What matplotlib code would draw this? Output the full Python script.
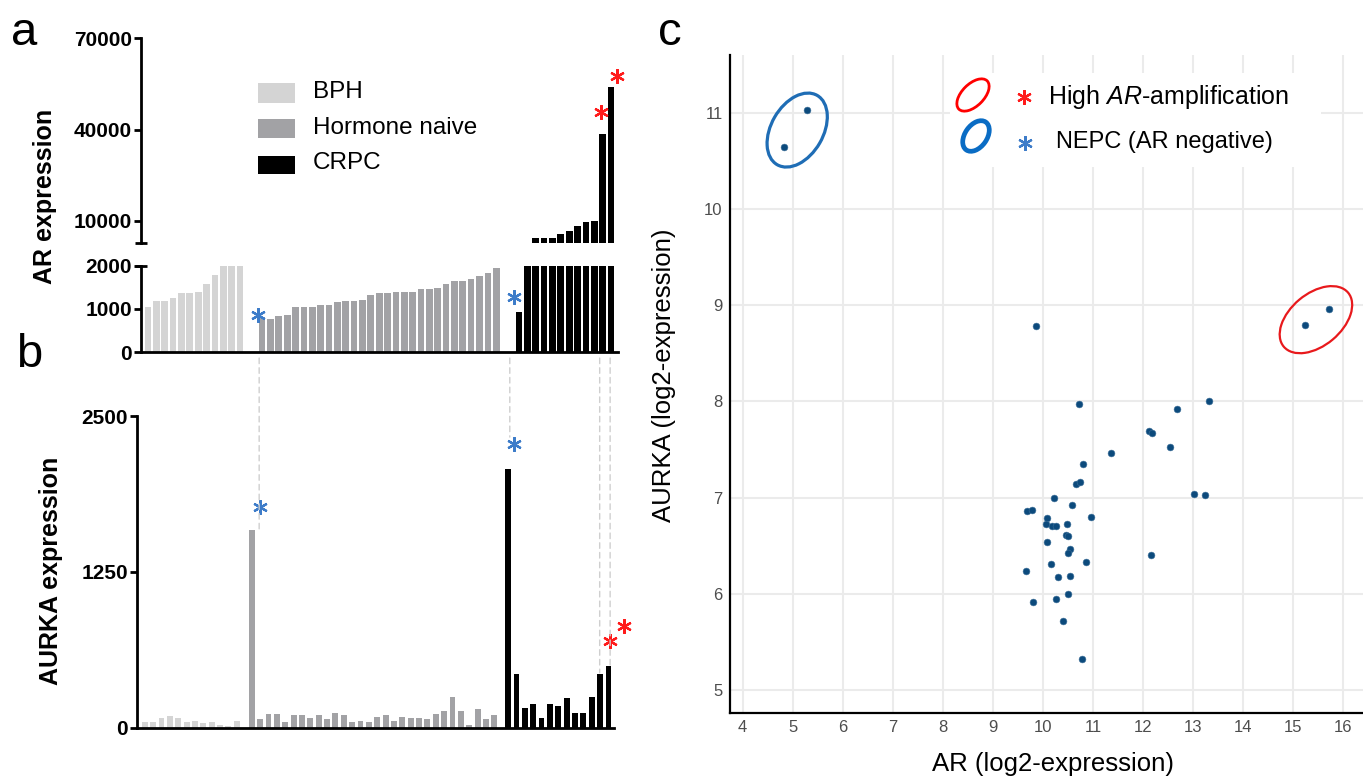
import numpy as np
import matplotlib
matplotlib.use("Agg")
import matplotlib.pyplot as plt
from matplotlib.patches import Ellipse, Rectangle, ConnectionPatch
from matplotlib.transforms import blended_transform_factory, ScaledTranslation

plt.rcParams["font.family"] = ["Liberation Sans", "DejaVu Sans"]
plt.rcParams["mathtext.fontset"] = "custom"
plt.rcParams["mathtext.rm"] = "Liberation Sans"
plt.rcParams["mathtext.it"] = "Liberation Sans:italic"
NARROW = ["Liberation Sans Narrow", "Liberation Sans"]

W, H = 1363, 778

# --- data ------------------------------------------------------------------------------
groups = ["BPH", "Hormone naive", "CRPC"]
group_colors = ["#d4d4d4", "#a2a2a5", "#000000"]

bph_ar = [1040, 1190, 1190, 1250, 1370, 1370, 1400, 1580, 1790, 2000, 2000, 2000]
naive_ar = [800, 770, 823, 862, 1040, 1040, 1040, 1100, 1100, 1150, 1190, 1190, 1215,
            1310, 1370, 1370, 1400, 1400, 1400, 1460, 1460, 1485, 1580, 1640, 1640,
            1690, 1770, 1820, 1940]
crpc_ar = [920, 2600, 4370, 4370, 4370, 5690, 6540, 8190, 9500, 9830, 38590, 53920]

bph_aurka = [46, 46, 75, 97, 75, 46, 57, 35, 46, 22, 14, 57]
naive_aurka = [1582, 67, 110, 110, 46, 100, 100, 78, 100, 67, 121, 100, 46, 57, 46, 89,
               100, 57, 89, 78, 78, 67, 110, 132, 245, 132, 24, 151, 67, 100]
crpc_aurka = [2077, 433, 161, 194, 75, 194, 172, 237, 118, 118, 245, 433, 498]

sc_ar = [4.83, 5.29, 9.85, 15.23, 15.71, 10.71, 12.67, 13.31, 12.11, 12.18, 12.53, 11.35,
         10.80, 10.65, 10.73, 10.22, 13.01, 13.23, 10.58, 9.67, 9.77, 10.95, 10.07, 10.05,
         10.17, 10.26, 10.47, 10.46, 10.50, 10.08, 10.53, 10.50, 12.15, 10.16, 10.86, 9.65,
         10.29, 10.54, 10.49, 10.26, 9.79, 10.40, 10.77]
sc_aurka = [10.64, 11.03, 8.78, 8.79, 8.96, 7.97, 7.92, 8.00, 7.69, 7.67, 7.53, 7.46,
            7.35, 7.14, 7.16, 7.00, 7.04, 7.03, 6.92, 6.86, 6.87, 6.80, 6.79, 6.73,
            6.71, 6.71, 6.73, 6.61, 6.60, 6.54, 6.47, 6.43, 6.40, 6.31, 6.33, 6.24,
            6.18, 6.19, 6.00, 5.95, 5.92, 5.72, 5.32]

# star annotations: (group, bar index, x offset, y)
stars_a_low = [(1, 0, -0.45, 850, "blue"), (2, 0, -0.65, 1264, "blue")]
stars_a_up = [(2, 10, -0.2, 45770, "red"), (2, 11, 0.7, 57600, "red")]
stars_b = [(1, 0, 1.0, 1773, "blue"), (2, 0, 0.75, 2273, "blue"),
           (2, 12, 0.2, 694, "red"), (2, 12, 1.8, 815, "red")]
# dashed guides: (group in a, index in a, x offset, AURKA value where it stops)
guides = [(1, 0, -0.35, 1582), (2, 0, -1.1, 2331), (2, 10, -0.35, 440), (2, 11, -0.1, 500)]

STAR_COL = {"blue": "#3d7cc9", "red": "#ff1a1a"}


def positions(sizes, gaps):
    xs, start = [], 0.0
    for i, n in enumerate(sizes):
        xs.append(start + np.arange(n))
        if i < len(gaps):
            start = xs[-1][-1] + gaps[i]
    return xs


def px_axes(l, t, r, b):
    return fig.add_axes([l / W, 1 - b / H, (r - l) / W, (b - t) / H])


def fpx(x, y):
    return x / W, 1 - y / H


def star(ax, x, y, col, trans=None):
    kw = dict(transform=trans) if trans is not None else {}
    ax.plot([x], [y], marker=(6, 2, 0), ms=10.5, mew=1.6, color=STAR_COL[col],
            clip_on=False, zorder=5, **kw)


fig = plt.figure(figsize=(W / 100, H / 100), dpi=100)

xa = positions([len(bph_ar), len(naive_ar), len(crpc_ar)], [2.64, 2.72])
xb = positions([len(bph_aurka), len(naive_aurka), len(crpc_aurka)], [1.79, 1.65])
ya = [bph_ar, naive_ar, crpc_ar]
yb = [bph_aurka, naive_aurka, crpc_aurka]

tick_kw = dict(labelsize=15, width=2.0, length=5, pad=1.5)

# --- panel a: broken axis ---------------------------------------------------------------
ax_up = px_axes(141, 38.3, 618, 242.7)
ax_lo = px_axes(141, 265.7, 618, 352)
for ax in (ax_up, ax_lo):
    for g in range(3):
        ax.bar(xa[g], ya[g], width=0.8, color=group_colors[g], linewidth=0)
    ax.set_xlim(-0.84, 56.2)
    ax.set_xticks([])
    for s in ("top", "right"):
        ax.spines[s].set_visible(False)
    ax.spines["left"].set_linewidth(2.0)
    ax.tick_params(axis="y", **tick_kw)
ax_up.spines["bottom"].set_visible(False)
ax_up.set_ylim(2800, 70000)
ax_up.set_yticks([10000, 40000, 70000])
ax_lo.set_ylim(0, 2000)
ax_lo.set_yticks([0, 1000, 2000])
ax_lo.spines["bottom"].set_linewidth(2.0)
for ax in (ax_up, ax_lo):
    for lab in ax.get_yticklabels():
        lab.set_fontweight("bold")
# end caps of the broken axis
ax_up.plot([-0.012, 0.012], [0, 0], transform=ax_up.transAxes, color="k", lw=2.0,
           clip_on=False, solid_capstyle="butt")
ax_lo.plot([-0.012, 0.012], [1, 1], transform=ax_lo.transAxes, color="k", lw=2.0,
           clip_on=False, solid_capstyle="butt")

for g, i, dx, y, c in stars_a_low:
    star(ax_lo, xa[g][i] + dx, y, c)
for g, i, dx, y, c in stars_a_up:
    star(ax_up, xa[g][i] + dx, y, c)

fig.text(*fpx(45, 196), "AR expression", rotation=90, ha="center", va="center",
         fontsize=18, fontweight="bold")

# legend of panel a
leg_y = [(82.7, 102.7, 92.3), (119, 137.7, 127.7), (155.7, 174.3, 163.3)]
for (t, b, ty), name, col in zip(leg_y, groups, group_colors):
    fig.add_artist(Rectangle(fpx(258, b), 37 / W, (b - t) / H, transform=fig.transFigure,
                             color=col, lw=0))
    fig.text(*fpx(313, ty), name, ha="left", va="center", fontsize=17.5)

# --- panel b ----------------------------------------------------------------------------
ax_b = px_axes(137, 416, 614, 727.7)
for g in range(3):
    ax_b.bar(xb[g], yb[g], width=0.7, color=group_colors[g], linewidth=0)
ax_b.set_xlim(-0.93, 56.1)
ax_b.set_ylim(0, 2500)
ax_b.set_yticks([0, 1250, 2500])
ax_b.set_xticks([])
for s in ("top", "right"):
    ax_b.spines[s].set_visible(False)
for s in ("left", "bottom"):
    ax_b.spines[s].set_linewidth(2.0)
ax_b.tick_params(axis="y", **tick_kw)
for lab in ax_b.get_yticklabels():
    lab.set_fontweight("bold")
for g, i, dx, y, c in stars_b:
    star(ax_b, xb[g][i] + dx, y, c)
fig.text(*fpx(51, 571), "AURKA expression", rotation=90, ha="center", va="center",
         fontsize=18, fontweight="bold")

# dashed guides from panel a down to panel b (drawn above the axes backgrounds)
for g, i, dx, yv in guides:
    x = xa[g][i] + dx
    tr_a = blended_transform_factory(ax_lo.transData, ax_lo.transAxes)
    tr_b = blended_transform_factory(ax_lo.transData, ax_b.transData)
    con = ConnectionPatch(xyA=(x, -0.07), coordsA=tr_a, xyB=(x, yv), coordsB=tr_b,
                          color="#cfcfcf", lw=1.0, linestyle=(0, (4, 3)), zorder=1)
    fig.add_artist(con)

# --- panel c: scatter -------------------------------------------------------------------
ax_c = px_axes(729.6, 55, 1363, 713.3)
ax_c.set_axisbelow(True)
ax_c.grid(True, color="#ebebeb", lw=1.5)
ax_c.scatter(sc_ar, sc_aurka, s=24, color="#0c4a7c", edgecolors="#3d6f99",
             linewidths=0.4, zorder=3)
ax_c.add_patch(Rectangle(fpx(950, 167), 371 / W, 94 / H, transform=fig.transFigure,
                         color="white", lw=0, zorder=1))
for s in ("top", "right"):
    ax_c.spines[s].set_visible(False)
for s in ("left", "bottom"):
    ax_c.spines[s].set_linewidth(1.6)
ax_c.set_xticks(range(4, 17))
ax_c.set_yticks(range(5, 12))
ax_c.tick_params(length=0, labelsize=12, labelcolor="#4d4d4d", pad=5)
for lab in ax_c.get_xticklabels() + ax_c.get_yticklabels():
    lab.set_fontfamily(NARROW)
ax_c.set_xlim(3.74, 16.39)
ax_c.set_ylim(4.76, 11.6)


def px_ellipse(ax, cx, cy, w, h, ang, base, **kw):
    tr = fig.dpi_scale_trans + ScaledTranslation(cx, cy, base)
    e = Ellipse((0, 0), w / 100, h / 100, angle=ang, transform=tr, fill=False, **kw)
    if ax is None:
        fig.add_artist(e)
    else:
        ax.add_patch(e)


px_ellipse(ax_c, 5.09, 10.82, 80, 52, 60, ax_c.transData, color="#1f6db5", lw=2.3,
           zorder=4)
px_ellipse(ax_c, 15.45, 8.85, 84, 52, 40, ax_c.transData, color="#e8191c", lw=1.6,
           zorder=4)

# legend of panel c
px_ellipse(None, *fpx(973, 95), 40, 22, 45, fig.transFigure, color="#ff0000", lw=2.0)
px_ellipse(None, *fpx(976, 136), 34, 22, 55, fig.transFigure, color="#0a6cc4", lw=3.4)
ov = fig.add_axes([0, 0, 1, 1], frameon=False)
ov.set_axis_off()
star(ov, *fpx(1024, 97), "red", trans=fig.transFigure)
star(ov, *fpx(1025, 143), "blue", trans=fig.transFigure)
fig.text(*fpx(1048, 97), r"High $\mathit{AR}$-amplification", ha="left", va="center",
         fontsize=18)
fig.text(*fpx(1056, 142), "NEPC (AR negative)", ha="left", va="center", fontsize=17)

fig.text(*fpx(1053, 764), "AR (log2-expression)", ha="center", va="center", fontsize=18.5)
fig.text(*fpx(664, 375), "AURKA (log2-expression)", rotation=90, ha="center",
         va="center", fontsize=18.5)

# panel letters
fig.text(*fpx(24, 33), "a", ha="center", va="center", fontsize=34)
fig.text(*fpx(29, 355), "b", ha="center", va="center", fontsize=34)
fig.text(*fpx(670, 33), "c", ha="center", va="center", fontsize=34)

fig.savefig("out.png", dpi=100)
